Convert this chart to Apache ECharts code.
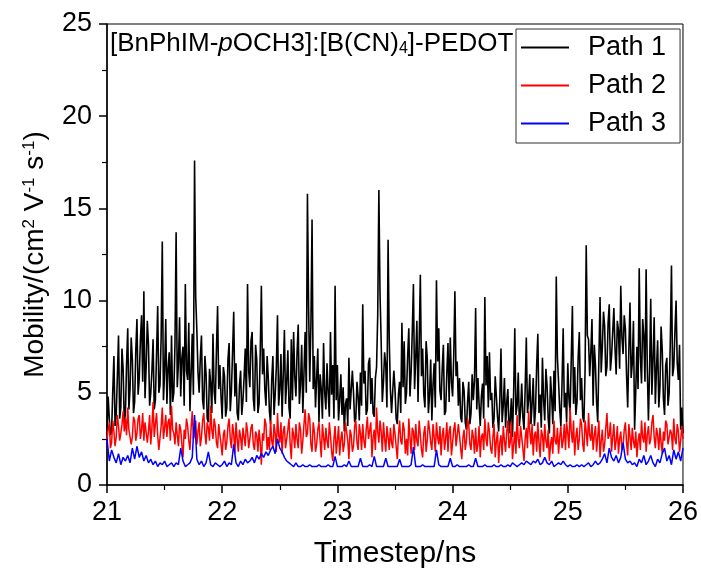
<!DOCTYPE html>
<html>
<head>
<meta charset="utf-8">
<script src="https://cdn.jsdelivr.net/npm/echarts@6/dist/echarts.min.js"></script>
<style>
html,body{margin:0;padding:0;background:#fff;}
#chart{width:701px;height:574px;}
</style>
</head>
<body>
<div id="chart"></div>
<script>
// time grid starts at 21.00 ns; Path 1 and Path 2 sampled every 0.01 ns, Path 3 every 0.02 ns
const tStart = 21;
const stepFine = 0.01;
const stepCoarse = 0.02;

const xTicks = ['21', '22', '23', '24', '25', '26'];
const yTicks = ['0', '5', '10', '15', '20', '25'];
const seriesNames = ['Path 1', 'Path 2', 'Path 3'];

const path1 = [
  3.0,4.8, 3.6,2.7, 2.9,5.1, 7.0,3.2, 3.8,5.9, 8.1,3.6, 4.2,7.4, 6.3,3.4, 3.9,6.6, 8.5,4.1,
  5.2,8.0, 6.8,3.9, 4.5,7.3, 9.0,4.9, 5.8,7.9, 9.2,5.6, 10.5,4.7, 6.4,8.9, 7.6,4.3, 5.0,6.2,
  7.9,4.1, 4.6,7.1, 9.7,5.0, 5.4,8.0, 13.2,4.6, 6.1,9.0, 4.4,6.3, 7.2,3.8, 8.1,4.5, 5.0,7.6,
  13.7,5.3, 6.6,9.1, 4.8,6.9, 7.5,4.3, 10.9,6.2, 5.7,8.8, 4.0,6.0, 8.2,4.9, 17.6,10.2, 8.4,6.1,
  5.0,6.9, 8.1,4.6, 4.1,7.0, 6.0,3.6, 3.4,6.3, 5.5,3.9, 8.2,5.1, 4.4,7.3, 9.7,5.2, 6.5,4.8,
  3.6,6.4, 5.9,3.7, 4.2,6.8, 7.7,4.0, 5.1,7.2, 9.4,4.8, 6.6,3.9, 3.5,5.4, 6.2,3.8, 4.6,5.8,
  7.4,4.5, 10.9,6.2, 5.3,7.8, 8.3,4.7, 4.0,7.6, 6.8,3.9, 4.4,7.1, 10.8,6.0, 7.4,5.2, 4.3,7.0,
  5.8,4.0, 3.3,5.7, 7.0,3.8, 4.9,6.4, 9.2,4.3, 5.2,7.1, 3.7,6.0, 8.4,4.4, 5.6,7.3, 4.2,3.6,
  7.9,4.6, 8.3,5.9, 4.8,7.2, 8.7,4.4, 5.5,7.6, 3.9,6.1, 8.3,5.0, 15.8,9.6, 5.6,8.7, 14.4,5.2,
  7.0,4.2, 5.8,7.4, 3.4,6.0, 5.2,3.6, 7.7,5.0, 4.1,6.6, 5.0,3.7, 8.3,4.9, 6.5,3.6, 10.8,4.6,
  6.5,3.5, 4.6,6.0, 3.8,5.3, 2.9,4.4, 4.7,3.2, 6.9,4.1, 4.2,6.2, 5.0,3.4, 3.6,5.6, 4.8,3.5,
  6.1,4.3, 9.8,5.5, 6.2,3.8, 4.1,6.6, 6.9,4.4, 5.8,3.9, 3.7,5.8, 6.4,9.2, 16.0,10.4, 7.8,4.5,
  5.6,7.2, 6.5,4.2, 13.3,7.9, 5.2,3.9, 3.8,6.2, 5.2,3.6, 3.3,4.9, 5.6,3.9, 8.8,5.3, 7.8,4.4,
  5.0,7.0, 8.5,4.8, 6.1,8.3, 10.9,5.2, 6.9,8.9, 4.5,7.7, 11.4,5.9, 7.4,4.9, 4.2,7.8, 6.9,3.9,
  4.9,6.8, 3.5,5.4, 6.6,4.2, 11.1,6.7, 8.5,5.1, 4.6,6.3, 7.6,3.8, 4.0,6.1, 7.7,4.5, 8.0,5.6,
  4.8,7.0, 10.5,5.9, 6.7,4.3, 5.8,3.7, 3.4,5.6, 5.1,3.4, 3.0,4.5, 5.6,3.3, 3.9,6.0, 4.6,5.7,
  9.6,4.1, 5.8,4.4, 3.2,4.8, 5.5,3.6, 10.2,5.4, 7.0,4.2, 7.2,4.6, 5.0,3.1, 3.6,5.9, 4.8,3.7,
  2.9,4.6, 7.4,3.4, 4.3,5.8, 3.1,4.5, 5.2,2.8, 3.5,4.7, 2.6,5.0, 8.5,3.8, 4.3,6.1, 3.2,4.0,
  5.5,3.7, 3.0,5.2, 8.0,3.9, 4.6,6.0, 3.3,4.4, 5.8,3.2, 4.1,6.5, 8.2,3.9, 4.9,3.1, 6.9,4.6,
  3.5,6.3, 5.4,3.6, 2.8,5.9, 4.8,3.3, 6.2,4.0, 11.3,6.9, 5.6,4.1, 3.2,5.5, 8.5,4.2, 5.0,3.4,
  6.6,4.7, 3.9,6.8, 9.7,4.4, 6.4,3.8, 4.5,6.9, 8.3,4.6, 5.8,3.7, 3.4,6.2, 13.0,8.1, 7.9,5.9,
  7.2,9.0, 4.3,7.6, 6.5,4.5, 3.4,6.8, 10.2,6.1, 7.5,9.4, 8.6,5.9, 6.4,8.8, 9.8,6.2, 7.0,8.3,
  9.6,7.4, 6.0,8.9, 8.4,6.3, 10.8,8.0, 7.1,9.2, 8.5,6.0, 4.2,7.3, 9.9,5.8, 6.6,8.9, 3.0,5.1,
  7.5,5.2, 11.75,7.0, 5.5,9.0, 8.1,5.6, 11.7,6.4, 3.5,6.2, 10.1,4.9, 6.8,9.1, 4.4,6.3, 7.85,4.2,
  5.3,8.6, 7.3,4.7, 3.8,6.5, 6.9,4.3, 5.0,7.8, 11.9,5.9, 6.4,8.3, 10.0,6.6, 5.7,7.6, 3.0,4.2,
  2.8
];

const path2 = [
  2.5,3.0, 3.4,2.0, 2.3,3.5, 2.9,2.1, 2.6,3.8, 3.2,2.4, 2.8,3.3, 4.0,2.9, 3.6,2.7, 4.2,3.0,
  3.1,2.2, 2.6,3.7, 3.5,2.4, 2.8,3.6, 3.8,2.5, 3.0,3.9, 2.4,3.4, 3.3,2.3, 2.9,3.8, 2.2,3.1,
  4.5,2.6, 3.3,3.9, 2.7,1.9, 2.0,3.2, 4.2,2.5, 3.1,3.8, 2.6,3.4, 3.6,2.4, 4.3,3.0, 2.8,2.2,
  3.4,2.7, 2.1,3.3, 3.0,2.2, 1.5,3.0, 2.5,3.6, 3.2,2.4, 1.9,3.1, 4.0,2.5, 2.7,3.5, 2.2,2.9,
  3.4,2.1, 2.6,3.5, 3.9,2.8, 2.2,3.4, 3.1,2.4, 4.3,3.0, 2.5,3.6, 3.2,2.3, 2.0,3.3, 2.7,2.2,
  1.6,2.7, 3.0,1.9, 2.3,3.2, 3.6,2.5, 2.0,3.3, 2.8,1.7, 3.4,2.5, 1.8,3.0, 2.6,1.9, 3.1,2.6,
  2.1,3.4, 2.9,2.0, 2.5,3.1, 3.3,2.2, 1.9,2.9, 2.7,1.8, 3.0,2.3, 1.1,2.8, 2.4,3.6, 3.3,1.9,
  2.6,1.9, 3.5,2.4, 2.0,3.3, 2.8,1.8, 3.9,2.7, 2.3,3.4, 1.7,2.9, 3.2,2.0, 2.5,3.0, 3.6,2.2,
  1.4,3.1, 2.7,2.0, 3.3,2.5, 2.0,3.4, 3.0,1.7, 2.4,3.3, 4.1,2.6, 2.8,3.9, 3.6,2.2, 1.8,3.4,
  2.9,1.8, 2.2,3.0, 3.4,2.4, 1.5,3.3, 2.6,1.9, 3.1,2.4, 2.0,3.4, 2.7,1.8, 1.3,2.5, 3.2,1.7,
  2.4,3.2, 1.6,2.5, 2.9,1.8, 2.2,3.4, 3.3,2.4, 1.4,3.0, 2.7,1.8, 2.1,3.2, 3.5,2.3, 1.9,3.3,
  2.8,1.9, 3.3,2.4, 2.0,3.0, 3.7,2.5, 2.4,3.4, 1.5,2.6, 3.0,1.9, 4.2,2.9, 2.3,3.5, 2.9,1.8,
  3.4,2.5, 1.8,3.2, 2.6,1.9, 3.1,2.3, 2.0,3.3, 2.8,2.1, 1.4,2.7, 3.5,2.4, 2.2,3.4, 3.0,1.7,
  2.5,1.6, 3.6,2.6, 1.7,3.1, 2.9,1.9, 3.3,2.4, 2.1,3.5, 2.7,1.9, 1.5,2.8, 3.2,1.8, 2.4,3.5,
  3.0,2.3, 1.9,3.3, 2.6,1.8, 3.4,2.6, 2.2,3.2, 1.6,2.7, 3.1,1.9, 2.5,3.4, 1.8,2.9, 3.2,1.6,
  2.3,3.0, 3.4,2.1, 2.0,3.3, 2.7,2.0, 1.4,2.6, 3.0,1.9, 2.4,3.6, 3.3,2.2, 1.9,3.0, 2.6,1.7,
  3.1,1.8, 2.2,3.2, 1.5,2.6, 2.8,1.9, 3.6,2.5, 2.1,3.4, 2.9,2.0, 1.7,2.6, 3.3,1.5, 2.4,2.9,
  1.2,2.3, 2.7,1.6, 3.2,2.4, 1.8,2.9, 3.5,2.0, 2.3,3.4, 1.4,2.2, 2.9,1.7, 3.8,2.5, 2.0,3.2,
  2.6,2.0, 1.3,2.5, 3.1,2.0, 4.0,2.9, 2.2,3.3, 1.6,2.7, 2.9,1.8, 3.4,2.3, 1.5,3.0, 2.7,1.8,
  3.3,2.4, 2.0,3.0, 1.3,2.2, 2.6,1.7, 3.5,2.4, 2.2,3.1, 1.7,2.6, 3.2,2.0, 2.4,3.3, 1.9,3.4,
  2.8,2.0, 4.2,2.9, 2.3,3.5, 1.6,2.6, 3.1,1.9, 2.5,3.6, 3.3,2.2, 1.8,3.5, 2.9,2.1, 3.9,2.7,
  2.4,3.3, 1.9,2.7, 3.2,1.8, 2.6,3.5, 1.5,2.4, 3.0,1.8, 2.2,3.1, 3.9,2.5, 2.7,3.4, 1.8,2.6,
  3.3,1.9, 2.4,3.2, 1.7,2.5, 2.9,1.9, 2.1,3.0, 3.4,2.3, 1.6,3.3, 2.6,1.9, 3.1,2.4, 2.0,2.9,
  1.5,2.4, 2.8,1.9, 3.5,2.6, 2.3,3.4, 1.8,2.7, 3.2,2.2, 2.5,3.4, 3.8,2.6, 2.0,3.1, 2.7,1.9,
  3.1,2.3, 1.7,2.9, 2.4,3.5, 3.3,2.2, 2.1,3.0, 2.8,1.9, 3.6,2.5, 2.2,3.3, 2.9,1.8, 2.4,3.2,
  2.5
];

const path3 = [
  2.5, 1.3, 1.9, 1.5, 1.2, 1.7, 1.1, 1.5, 1.3, 1.6,
  1.2, 2.0, 1.4, 2.1, 1.5, 1.8, 1.3, 1.6, 1.2, 1.4,
  1.1, 1.3, 1.0, 1.2, 1.1, 1.3, 1.0, 1.1, 1.2, 1.0,
  1.2, 1.1, 2.0, 1.3, 1.0, 1.1, 1.2, 1.5, 3.8, 1.4,
  1.1, 1.3, 1.0, 1.2, 1.8, 1.1, 1.0, 1.2, 1.1, 1.0,
  1.1, 1.3, 1.0, 1.2, 1.1, 2.2, 1.2, 1.0, 1.3, 1.1,
  1.4, 1.2, 1.3, 1.5, 1.2, 1.6, 1.4, 1.7, 1.5, 1.8,
  1.6, 1.9, 2.1, 1.7, 2.5, 2.0, 1.8, 1.5, 1.3, 1.2,
  1.1, 1.0, 1.2, 1.0, 1.0, 1.1, 1.0, 1.0, 1.1, 1.0,
  1.0, 1.0, 1.1, 1.0, 1.0, 1.0, 1.1, 1.0, 1.0, 1.55,
  1.0, 1.0, 1.0, 1.1, 1.0, 1.3, 1.0, 1.0, 1.0, 1.0,
  1.45, 1.0, 1.0, 1.0, 1.1, 1.0, 1.55, 1.0, 1.0, 1.0,
  1.0, 1.45, 1.0, 1.0, 1.0, 1.0, 1.0, 1.4, 1.0, 1.0,
  1.0, 1.0, 1.1, 2.05, 1.0, 1.0, 1.0, 1.1, 1.0, 1.0,
  1.0, 1.0, 1.0, 1.9, 1.1, 1.0, 1.0, 1.0, 1.0, 1.45,
  1.0, 1.0, 1.1, 1.0, 1.0, 1.0, 1.0, 1.1, 1.0, 1.0,
  1.45, 1.0, 1.0, 1.0, 1.1, 1.0, 1.0, 1.0, 1.1, 1.0,
  1.0, 1.1, 1.0, 1.0, 1.1, 1.0, 1.2, 1.1, 1.0, 1.1,
  1.2, 1.1, 1.3, 1.2, 1.1, 1.3, 1.2, 1.4, 1.1, 1.2,
  1.5, 1.2, 1.1, 1.3, 1.0, 1.1, 1.2, 1.1, 1.3, 1.1,
  1.0, 1.1, 1.0, 1.0, 1.1, 1.0, 1.1, 1.0, 1.1, 1.2,
  1.0, 1.1, 1.3, 1.1, 1.2, 1.4, 1.7, 1.2, 2.0, 1.5,
  1.3, 1.6, 1.2, 1.5, 2.3, 1.4, 1.2, 1.3, 1.1, 1.2,
  1.0, 1.4, 1.2, 1.6, 1.1, 1.3, 1.6, 1.2, 1.0, 1.4,
  1.2, 1.7, 2.0, 1.3, 1.6, 1.1, 1.9, 1.4, 1.8, 1.3,
  2.0
];

function pair(values, step) {
  return values.map(function (v, i) {
    return [+(tStart + i * step).toFixed(2), v];
  });
}

const FONT = 'Liberation Sans, Arial, sans-serif';
const chart = echarts.init(document.getElementById('chart'), null, {renderer: 'canvas'});

chart.setOption({
  animation: false,
  backgroundColor: '#fff',
  color: ['#000000', '#ff0000', '#0000ff'],
  title: {
    text: '[BnPhIM-{i|p}OCH3]:[B(CN){sub|4}]-PEDOT',
    left: 110,
    top: 31,
    padding: 0,
    textStyle: {
      fontFamily: FONT,
      fontSize: 26,
      fontWeight: 'normal',
      color: '#000',
      rich: {
        i: {fontFamily: FONT, fontSize: 26, fontStyle: 'italic', color: '#000'},
        sub: {fontFamily: FONT, fontSize: 16, verticalAlign: 'bottom', color: '#000'}
      }
    }
  },
  legend: {
    data: seriesNames,
    orient: 'vertical',
    left: 516,
    top: 29,
    padding: [5, 14, 6, 5],
    itemWidth: 48,
    itemHeight: 2,
    itemGap: 11,
    icon: 'rect',
    borderColor: '#333',
    borderWidth: 1,
    backgroundColor: '#fff',
    z: 10,
    textStyle: {fontFamily: FONT, fontSize: 27, color: '#000', padding: [0, 0, 0, 14]}
  },
  grid: {
    left: 107,
    right: 18,
    top: 24,
    bottom: 87,
    show: true,
    borderColor: '#000',
    borderWidth: 1,
    backgroundColor: 'transparent'
  },
  xAxis: {
    type: 'value',
    min: 21,
    max: 26,
    interval: 1,
    name: 'Timestep/ns',
    nameLocation: 'middle',
    nameGap: 54,
    nameTextStyle: {fontFamily: FONT, fontSize: 30, color: '#000'},
    axisLine: {show: true, onZero: false, lineStyle: {color: '#000', width: 1.5}},
    axisTick: {show: true, inside: false, length: 8, lineStyle: {color: '#000', width: 1.5}},
    minorTick: {show: true, splitNumber: 2, length: 5, lineStyle: {color: '#000', width: 1.2}},
    axisLabel: {
      fontFamily: FONT, fontSize: 27, color: '#000', margin: 14,
      formatter: function (v) { return xTicks[Math.round(v - 21)]; }
    },
    splitLine: {show: false}
  },
  yAxis: {
    type: 'value',
    min: 0,
    max: 25,
    interval: 5,
    name: 'Mobility/(cm{sup|2} V{sup|-1} s{sup|-1})',
    nameLocation: 'middle',
    nameGap: 58,
    nameRotate: 90,
    nameTextStyle: {
      fontFamily: FONT, fontSize: 28, color: '#000',
      rich: {
        sup: {fontFamily: FONT, fontSize: 17, verticalAlign: 'top', color: '#000'}
      }
    },
    axisLine: {show: true, onZero: false, lineStyle: {color: '#000', width: 1.5}},
    axisTick: {show: true, inside: false, length: 8, lineStyle: {color: '#000', width: 1.5}},
    minorTick: {show: true, splitNumber: 2, length: 5, lineStyle: {color: '#000', width: 1.2}},
    axisLabel: {
      fontFamily: FONT, fontSize: 27, color: '#000', margin: 15,
      formatter: function (v) { return yTicks[Math.round(v / 5)]; }
    },
    splitLine: {show: false}
  },
  series: [
    {name: seriesNames[0], type: 'line', data: pair(path1, stepFine), showSymbol: false, symbol: 'none',
     lineStyle: {color: '#000000', width: 1.6}, z: 2},
    {name: seriesNames[1], type: 'line', data: pair(path2, stepFine), showSymbol: false, symbol: 'none',
     lineStyle: {color: '#ff0000', width: 1.5}, z: 3},
    {name: seriesNames[2], type: 'line', data: pair(path3, stepCoarse), showSymbol: false, symbol: 'none',
     lineStyle: {color: '#0000ff', width: 1.5}, z: 4}
  ]
});
</script>
</body>
</html>
